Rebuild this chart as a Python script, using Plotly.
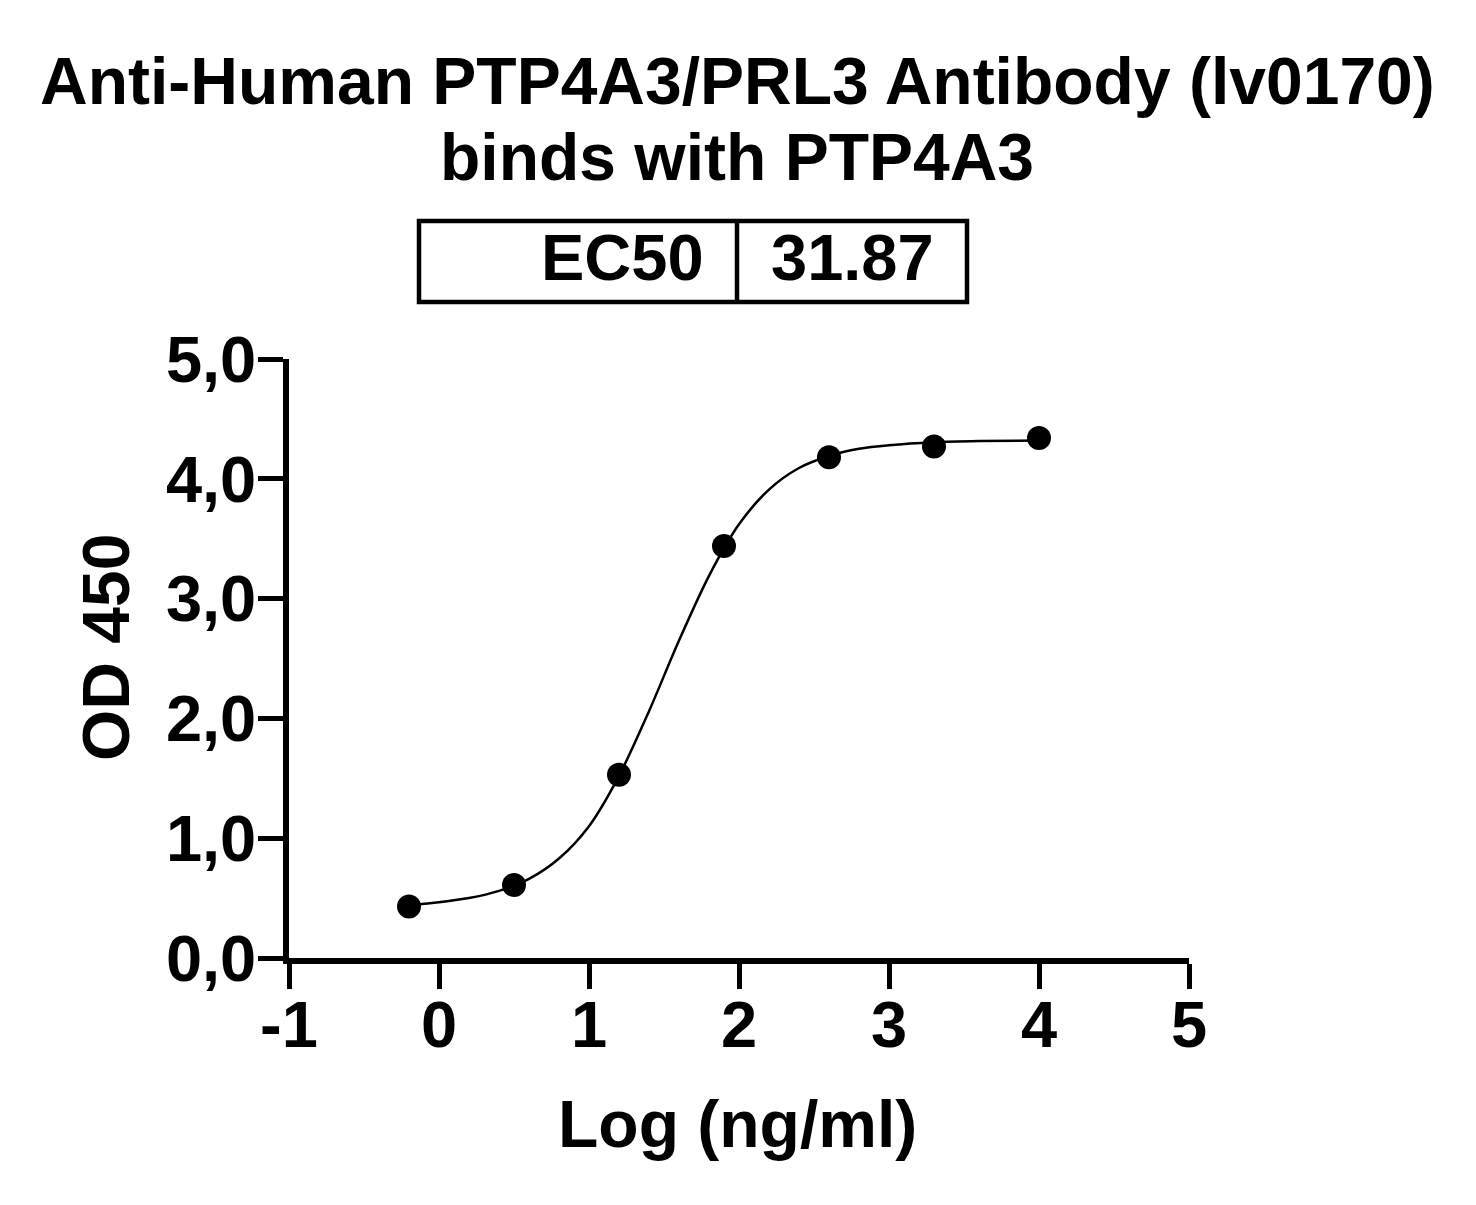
import plotly.graph_objects as go

# measured points: log10 concentration (ng/ml) vs OD450
LOG_CONC = [-0.2, 0.5, 1.2, 1.9, 2.6, 3.3, 4.0]
OD450 = [0.43, 0.61, 1.53, 3.44, 4.18, 4.27, 4.34]

# fitted curve
CURVE_X = [-0.2, 0.0, 0.2, 0.4, 0.6, 0.8, 1.0, 1.2, 1.4, 1.6, 1.8, 2.0,
           2.2, 2.4, 2.6, 2.8, 3.0, 3.3, 3.6, 4.0]
CURVE_Y = [0.44, 0.465, 0.50, 0.56, 0.66, 0.83, 1.10, 1.52, 2.06, 2.65, 3.19, 3.62,
           3.91, 4.09, 4.19, 4.25, 4.28, 4.305, 4.315, 4.32]

X_TICKS = [-1, 0, 1, 2, 3, 4, 5]
Y_TICKS = [0, 1, 2, 3, 4, 5]
Y_TICK_LABELS = ["0,0", "1,0", "2,0", "3,0", "4,0", "5,0"]

TITLE_LINES = ["Anti-Human PTP4A3/PRL3 Antibody (lv0170)", "binds with PTP4A3"]
EC50_LABEL = "EC50"
EC50_VALUE = "31.87"

# page body has an 8px margin, so the figure is shrunk by that much
OFF = 8
W, H = 1476 - OFF, 1205 - OFF
L, R, T, B = 289 - OFF, 287, 359 - OFF, 247
FONT = "Arial, Liberation Sans, sans-serif"


def px(xp):
    return (xp - OFF - L) / (W - L - R)


def py(yp):
    return (H - B - (yp - OFF)) / (H - T - B)


fig = go.Figure()
fig.add_trace(
    go.Scatter(
        x=CURVE_X,
        y=CURVE_Y,
        mode="lines",
        line={"color": "black", "width": 2.5, "shape": "spline", "smoothing": 0.8},
        hoverinfo="skip",
    )
)
fig.add_trace(
    go.Scatter(
        x=LOG_CONC,
        y=OD450,
        mode="markers",
        marker={"color": "black", "size": 24},
    )
)

axis_common = dict(
    showline=True,
    linecolor="black",
    linewidth=5.5,
    ticks="outside",
    ticklen=25,
    tickwidth=5,
    tickcolor="black",
    showgrid=False,
    zeroline=False,
    tickfont={"family": FONT, "size": 65, "color": "black", "weight": "bold"},
)
fig.update_xaxes(range=[-1, 5], tickvals=X_TICKS, ticktext=[str(v) for v in X_TICKS],
                 ticklabelstandoff=-20, **axis_common)
fig.update_yaxes(range=[0, 5], tickvals=Y_TICKS, ticktext=Y_TICK_LABELS,
                 ticklabelstandoff=-11, **axis_common)

bold = {"family": FONT, "color": "black", "weight": "bold"}
annotations = [
    dict(x=px(737), y=py(80.5), text=TITLE_LINES[0], font={**bold, "size": 66}),
    dict(x=px(737), y=py(156.5), text=TITLE_LINES[1], font={**bold, "size": 66}),
    dict(x=px(706), y=py(257.5), text=EC50_LABEL, xanchor="right", font={**bold, "size": 65}),
    dict(x=px(769), y=py(257.5), text=EC50_VALUE, xanchor="left", font={**bold, "size": 65}),
    dict(x=px(737), y=py(1124), text="Log (ng/ml)", font={**bold, "size": 66}),
    dict(x=px(106), y=py(648), text="OD 450", textangle=-90, font={**bold, "size": 66}),
]
for a in annotations:
    a.update(xref="paper", yref="paper", showarrow=False, yanchor="middle")
    a.setdefault("xanchor", "center")
    fig.add_annotation(**a)

fig.add_shape(type="rect", xref="paper", yref="paper", x0=px(419), x1=px(967),
              y0=py(221), y1=py(302), line={"color": "black", "width": 4.5})
fig.add_shape(type="line", xref="paper", yref="paper", x0=px(737), x1=px(737),
              y0=py(221), y1=py(302), line={"color": "black", "width": 4.5})

fig.update_layout(
    width=W,
    height=H,
    margin={"l": L, "r": R, "t": T, "b": B},
    paper_bgcolor="white",
    plot_bgcolor="white",
    showlegend=False,
)

fig.write_html("out.html")
